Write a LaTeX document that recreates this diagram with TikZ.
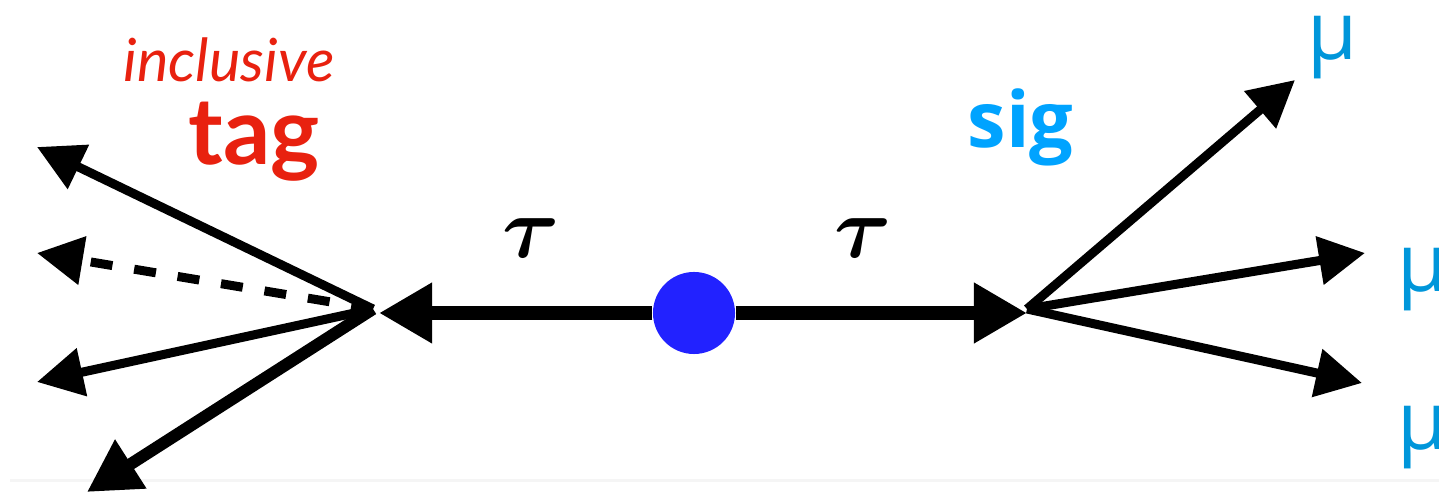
\documentclass[tikz,border=0pt]{standalone}
\usepackage{amsmath}
\usepackage{fontspec}
\newfontfamily\latofont{Lato}
\newfontfamily\opensans{Open Sans}
\usetikzlibrary{arrows.meta}
\definecolor{tagRed}{HTML}{E8210F}
\definecolor{sigBlue}{HTML}{00A3FF}
\definecolor{muBlue}{HTML}{0096DA}
\definecolor{dotBlue}{HTML}{2222FF}

\begin{document}
\begin{tikzpicture}[x=0.01cm, y=-0.01cm,
  tauline/.style={-{Triangle[length=0.53cm, width=0.57cm]}, line width=0.14cm},
  prong/.style={-{Triangle[length=0.46cm, width=0.47cm]}, line width=0.09cm},
  kick/.style={-{Triangle[length=0.52cm, width=0.55cm]}, line width=0.12cm},
  taulab/.style={anchor=base, inner sep=0pt, font=\fontsize{27}{30}\selectfont},
  mulab/.style={anchor=base west, inner sep=0pt, text=muBlue, font=\opensans\fontsize{23}{26}\selectfont},
  side/.style={anchor=base west, inner sep=0pt}
]
\useasboundingbox (0,0) rectangle (1439,492);
\draw[line width=0.03cm, black!4] (10,481) -- (1439,481);

% Vertices and the tau pair
\node[circle, fill=dotBlue, minimum size=0.82cm, inner sep=0pt] (dot) at (694,313) {};
\coordinate (tagv) at (373,309);
\coordinate (sigv) at (1027,309);
\draw[tauline, shorten >=0.06cm] (dot.west) -- (dot.west -| tagv);
\draw[tauline] (dot.east) -- (dot.east -| sigv);
\node[taulab] (tauL) at (531,258) {$\boldsymbol{\tau}$};
\node[taulab] (tauR) at (863,258) {$\boldsymbol{\tau}$};

% Tag side
\coordinate (l1) at (37,147);
\coordinate (l2) at (37,253);
\coordinate (l3) at (37,382);
\coordinate (l4) at (87,492);
\draw[prong] (tagv) -- (l1);
\draw[prong, dash pattern=on 0.22cm off 0.22cm] (tagv) -- (l2);
\draw[prong] (tagv) -- (l3);
\draw[kick] (tagv) -- (l4);
\node[side, text=tagRed, font=\latofont\itshape\fontsize{16.9}{19}\selectfont] (incl) at (123,82) {inclusive};
\node[side, text=tagRed, font=\latofont\bfseries\fontsize{26.5}{30}\selectfont] (tag) at (188,165) {tag};

% Signal side
\coordinate (r1) at (1295,80);
\coordinate (r2) at (1365,253);
\coordinate (r3) at (1362,383);
\draw[prong] (sigv) -- (r1);
\draw[prong] (sigv) -- (r2);
\draw[prong] (sigv) -- (r3);
\node[side, text=sigBlue, font=\opensans\bfseries\fontsize{22}{26}\selectfont] (sig) at (967,148) {sig};
\node[mulab] (mu1) at (1307,60) {µ};
\node[mulab] (mu2) at (1397,292) {µ};
\node[mulab] (mu3) at (1397,450) {µ};
\end{tikzpicture}
\end{document}
